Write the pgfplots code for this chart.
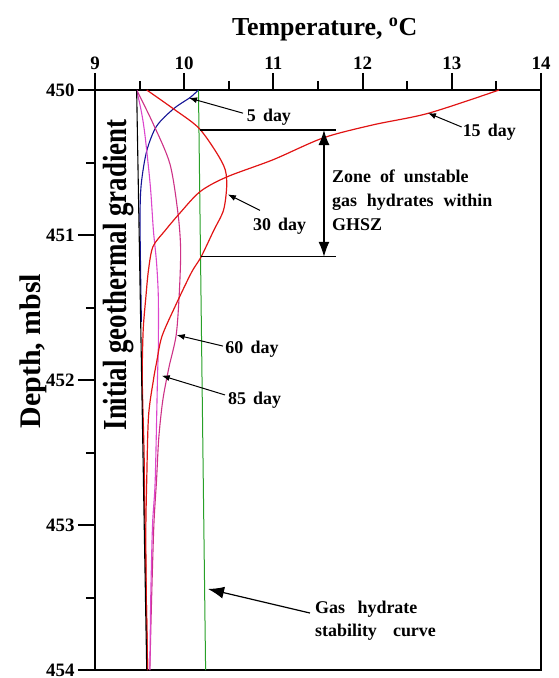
\documentclass[border=0pt]{standalone}
\usepackage{fontspec}
\setmainfont{Liberation Serif}
\usepackage{graphicx}
\usepackage{pgfplots}
\pgfplotsset{compat=1.18}
\usetikzlibrary{arrows.meta}
\definecolor{cred}{RGB}{225,20,20}
\definecolor{cblue}{RGB}{20,20,150}
\definecolor{cgreen}{RGB}{40,160,40}
\definecolor{cpinkA}{RGB}{205,50,135}
\definecolor{cpinkB}{RGB}{220,70,205}
\newcommand\annot{\bfseries\fontsize{18}{24}\selectfont}
\begin{document}
\begin{tikzpicture}
\useasboundingbox (-95bp,-8bp) rectangle (464bp,670bp);
% overlay axis for the temperature ticks (top)
\begin{axis}[
  scale only axis, width=446bp, height=580bp,
  xmin=9, xmax=14, ymin=0, ymax=1,
  xtick={9,10,11,12,13,14}, ytick=\empty,
  minor x tick num=1,
  tick align=outside,
  xtick pos=upper, xticklabel pos=upper,
  major tick length=17bp, minor tick length=9bp,
  axis line style={line width=2.2bp},
  tick style={line width=2bp, black},
  ticklabel style={font=\bfseries\fontsize{19}{22}\selectfont},
  /pgf/number format/assume math mode=true,
]
\end{axis}
\begin{axis}[
  scale only axis, width=446bp, height=580bp,
  xmin=9, xmax=14, ymin=450, ymax=454, y dir=reverse,
  xtick=\empty, ytick={450,451,452,453,454},
  minor y tick num=1,
  tick align=outside,
  ytick pos=left,
  major tick length=17bp, minor tick length=9bp,
  axis line style={line width=2.2bp},
  tick style={line width=2bp, black},
  ticklabel style={font=\bfseries\fontsize{19}{22}\selectfont},
  /pgf/number format/assume math mode=true,
  xlabel={Temperature, \textsuperscript{o}C},
  xlabel style={font=\bfseries\fontsize{26}{30}\selectfont, at={(axis description cs:0.515,1.105)}, anchor=center},
  ylabel={Depth, mbsl},
  ylabel style={font=\bfseries\fontsize{30}{34}\selectfont, at={(axis description cs:-0.138,0.55)}, anchor=center},
  clip=false,
]
% Gas hydrate stability curve
\addplot[cgreen, line width=1bp] coordinates {(10.16,450) (10.24,454)};
% 5 day
\addplot[cblue, line width=1.1bp, smooth] coordinates {
 (10.158,450.0) (10.07,450.05) (9.88,450.13) (9.69,450.25) (9.58,450.42)
 (9.52,450.64) (9.505,450.85) (9.51,451.2) (9.52,451.6)};
% 60 day (outer magenta)
\addplot[cpinkA, line width=1.1bp, smooth] coordinates {
 (9.467,450.0) (9.65,450.23) (9.84,450.51) (9.93,450.85) (9.96,451.1)
 (9.945,451.4) (9.91,451.69) (9.83,451.91) (9.76,452.14) (9.715,452.4)
 (9.69,452.69) (9.66,453.0) (9.635,453.5) (9.615,454.0)};
% 85 day (inner magenta)
\addplot[cpinkB, line width=1.1bp, smooth] coordinates {
 (9.467,450.0) (9.52,450.15) (9.56,450.31) (9.62,450.66) (9.655,450.97)
 (9.69,451.19) (9.71,451.43) (9.71,451.77) (9.70,452.0) (9.675,452.69)
 (9.645,453.0) (9.625,453.5) (9.615,454.0)};
% 15 day
\addplot[cred, line width=1.2bp, smooth] coordinates {
 (13.53,450.0) (12.74,450.16) (12.12,450.24) (11.56,450.33) (11.0,450.48)
 (10.476,450.6) (10.18,450.70) (9.95,450.85) (9.785,450.97) (9.65,451.08)
 (9.60,451.24) (9.57,451.43) (9.54,451.66) (9.53,452.0) (9.55,452.5)
 (9.56,453.0) (9.59,454.0)};
% 30 day
\addplot[cred, line width=1.2bp, smooth] coordinates {
 (9.58,450.0) (9.88,450.13) (10.16,450.26) (10.36,450.43) (10.46,450.55)
 (10.476,450.67) (10.44,450.83) (10.33,450.97) (10.19,451.15) (10.08,451.26)
 (9.90,451.49) (9.75,451.70) (9.69,451.88) (9.655,452.0) (9.60,452.25)
 (9.58,452.69) (9.57,453.03) (9.575,453.5) (9.59,454.0)};
% Initial geothermal gradient
\addplot[black, line width=1.1bp] coordinates {(9.467,450) (9.58,454)};

% annotations
\node[rotate=90, font=\bfseries\fontsize{27}{30}\selectfont] at (axis cs:9.269,451.276) {\scalebox{1}[1.25]{Initial geothermal gradient}};
\node[font=\annot] at (axis cs:10.95,450.19) {5\hspace{0.4em}day};
\node[font=\annot] at (axis cs:13.42,450.29) {15\hspace{0.4em}day};
\node[font=\annot] at (axis cs:11.07,450.94) {30\hspace{0.4em}day};
\node[font=\annot] at (axis cs:10.76,451.79) {60\hspace{0.4em}day};
\node[font=\annot] at (axis cs:10.79,452.14) {85\hspace{0.4em}day};
\node[font=\annot, anchor=west, align=left, inner sep=0pt] at (axis cs:11.657,450.76)
 {Zone\hspace{0.5em}of\hspace{0.5em}unstable\\gas\hspace{0.55em}hydrates\hspace{0.55em}within\\GHSZ};
\node[font=\annot, anchor=west, align=left, inner sep=0pt] at (axis cs:11.466,453.66)
 {Gas\hspace{0.7em}hydrate\\stability\hspace{0.9em}curve};

\draw[-{Latex[length=8bp,width=6bp]}, line width=1bp] (axis cs:10.66,450.16) -- (axis cs:10.054,450.055);
\draw[-{Latex[length=8bp,width=6bp]}, line width=1bp] (axis cs:13.11,450.255) -- (axis cs:12.733,450.159);
\draw[-{Latex[length=8bp,width=6bp]}, line width=1bp] (axis cs:10.85,450.83) -- (axis cs:10.49,450.72);
\draw[-{Latex[length=8bp,width=6bp]}, line width=1bp] (axis cs:10.435,451.766) -- (axis cs:9.916,451.69);
\draw[-{Latex[length=8bp,width=6bp]}, line width=1bp] (axis cs:10.457,452.103) -- (axis cs:9.748,451.97);
\draw[-{Latex[length=16bp,width=12bp]}, line width=1.2bp] (axis cs:11.41,453.607) -- (axis cs:10.267,453.441);
\draw[line width=1.2bp] (axis cs:10.18,450.276) -- (axis cs:11.70,450.276);
\draw[line width=1.2bp] (axis cs:10.19,451.15) -- (axis cs:11.70,451.15);
\draw[{Latex[length=15bp,width=11bp]}-{Latex[length=15bp,width=11bp]}, line width=1.2bp] (axis cs:11.567,450.276) -- (axis cs:11.567,451.15);
\end{axis}
\end{tikzpicture}
\end{document}
